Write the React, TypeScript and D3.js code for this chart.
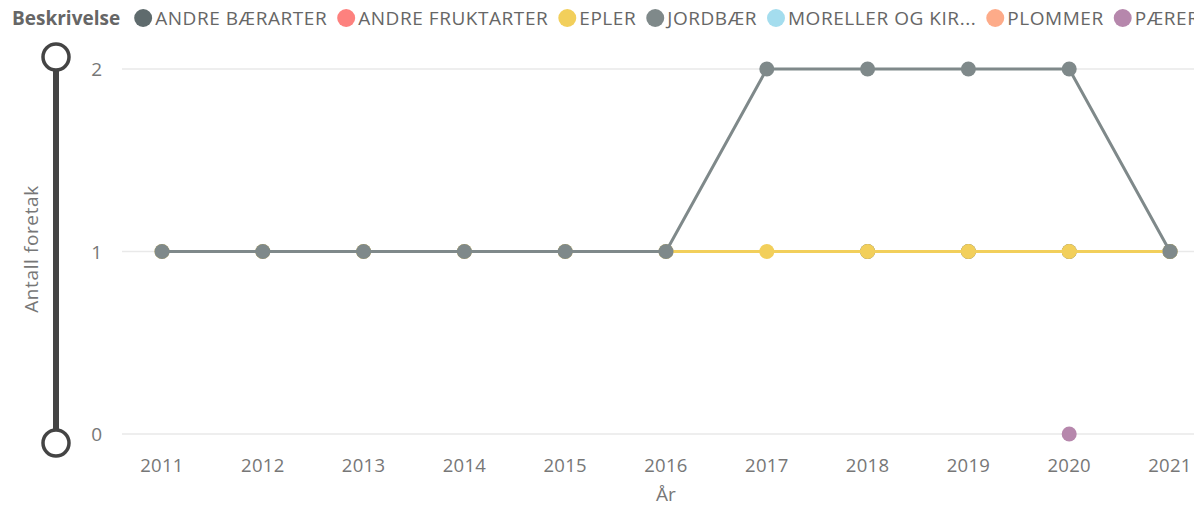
import React, { useEffect, useRef } from "react";
import * as d3 from "d3";

// data
const years = [2011, 2012, 2013, 2014, 2015, 2016, 2017, 2018, 2019, 2020, 2021];
const seriesNames = ["ANDRE BÆRARTER", "ANDRE FRUKTARTER", "EPLER", "JORDBÆR", "MORELLER OG KIR...", "PLOMMER", "PÆRER"];
const seriesColors = ["#5F6B6D", "#FD817E", "#F2CF5B", "#7F898A", "#A4DDEE", "#FDAB89", "#B687AC"];
const andreBaerarter: (number | null)[] = [null, null, null, null, null, null, null, 1, 1, 1, 1];
const andreFruktarter: (number | null)[] = [null, null, null, null, null, null, null, null, null, null, null];
const epler: (number | null)[] = [1, 1, 1, 1, 1, 1, 1, 1, 1, 1, 1];
const jordbaer: (number | null)[] = [1, 1, 1, 1, 1, 1, 2, 2, 2, 2, 1];
const moreller: (number | null)[] = [null, null, null, null, null, null, null, null, null, null, null];
const plommer: (number | null)[] = [null, null, null, null, null, null, null, null, null, null, null];
const paerer: (number | null)[] = [null, null, null, null, null, null, null, null, null, 0, null];
const yTicks = [0, 1, 2];

const seriesValues = [andreBaerarter, andreFruktarter, epler, jordbaer, moreller, plommer, paerer];

const W = 1194;
const H = 507;
const FONT = "'Segoe UI', 'Open Sans', 'Noto Sans', sans-serif";

export default function App() {
  const ref = useRef<SVGSVGElement | null>(null);

  useEffect(() => {
    document.body.style.margin = "0";
    const svg = d3.select(ref.current);
    svg.selectAll("*").remove();

    const x = d3.scalePoint<number>().domain(years).range([162, 1170]);
    const y = d3.scaleLinear().domain([0, 2]).range([434, 69]);

    // gridlines + y labels
    const yg = svg.append("g");
    yTicks.forEach((t) => {
      yg.append("line")
        .attr("x1", 122).attr("x2", W)
        .attr("y1", y(t)).attr("y2", y(t))
        .attr("stroke", "#E9E9E9").attr("stroke-width", 1.5);
      yg.append("text")
        .attr("x", 102).attr("y", y(t) + 7)
        .attr("text-anchor", "end")
        .attr("font-family", FONT).attr("font-size", 19)
        .attr("fill", "#777")
        .text(t);
    });

    // x labels
    years.forEach((yr) => {
      svg.append("text")
        .attr("x", x(yr)!).attr("y", 472)
        .attr("text-anchor", "middle")
        .attr("font-family", FONT).attr("font-size", 18.5)
        .attr("letter-spacing", 0.3)
        .attr("fill", "#777")
        .text(yr);
    });

    svg.append("text")
      .attr("x", 666).attr("y", 501)
      .attr("text-anchor", "middle")
      .attr("font-family", FONT).attr("font-size", 19)
      .attr("fill", "#777")
      .text("År");

    svg.append("text")
      .attr("transform", "translate(38,249) rotate(-90)")
      .attr("text-anchor", "middle")
      .attr("font-family", FONT).attr("font-size", 19)
      .attr("letter-spacing", 0.6)
      .attr("fill", "#777")
      .text("Antall foretak");

    // slider
    svg.append("line")
      .attr("x1", 56).attr("x2", 56).attr("y1", 57).attr("y2", 443)
      .attr("stroke", "#444").attr("stroke-width", 6);
    [57, 443].forEach((cy) => {
      svg.append("circle")
        .attr("cx", 56).attr("cy", cy).attr("r", 13)
        .attr("fill", "#fff").attr("stroke", "#444").attr("stroke-width", 3.5);
    });

    // lines
    const line = d3
      .line<number | null>()
      .defined((d) => d !== null)
      .x((_, i) => x(years[i])!)
      .y((d) => y(d as number));

    seriesValues.forEach((vals, si) => {
      const g = svg.append("g");
      g.append("path")
        .datum(vals)
        .attr("fill", "none")
        .attr("stroke", seriesColors[si])
        .attr("stroke-width", 3)
        .attr("d", line);
      vals.forEach((v, i) => {
        if (v === null) return;
        g.append("circle")
          .attr("cx", x(years[i])!).attr("cy", y(v))
          .attr("r", 7.5)
          .attr("fill", seriesColors[si]);
      });
    });

    // legend
    const lg = svg.append("g");
    const title = lg.append("text")
      .attr("x", 12).attr("y", 25)
      .attr("font-family", FONT).attr("font-size", 19)
      .attr("font-weight", "bold")
      .attr("fill", "#666")
      .text("Beskrivelse");
    let cx = 12 + (title.node() as SVGTextElement).getComputedTextLength() + 14;
    seriesNames.forEach((name, i) => {
      lg.append("circle")
        .attr("cx", cx + 9).attr("cy", 18).attr("r", 9)
        .attr("fill", seriesColors[i]);
      const t = lg.append("text")
        .attr("x", cx + 21).attr("y", 25)
        .attr("font-family", FONT).attr("font-size", 19)
        .attr("letter-spacing", 0.55)
        .attr("fill", "#666")
        .text(name);
      cx += 21 + (t.node() as SVGTextElement).getComputedTextLength() + 10;
    });
  }, []);

  return <svg ref={ref} width={W} height={H} style={{ display: "block" }} />;
}
